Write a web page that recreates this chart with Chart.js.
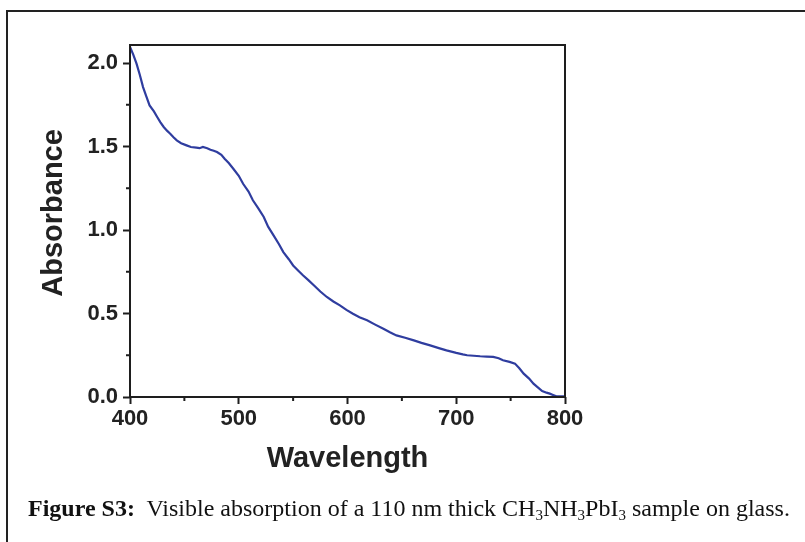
<!DOCTYPE html>
<html>
<head>
<meta charset="utf-8">
<script src="https://cdn.jsdelivr.net/npm/chart.js@4/dist/chart.umd.min.js"></script>
<style>
  html, body { margin: 0; padding: 0; background: #fff; }
  body { width: 805px; height: 542px; position: relative; overflow: hidden; }
  #frame {
    position: absolute; left: 6px; top: 10px; width: 820px; height: 560px;
    border-left: 2px solid #222; border-top: 2px solid #222;
  }
  #wrap { position: absolute; left: 0; top: 0; width: 805px; height: 542px; }
  #caption {
    position: absolute; left: 28px; top: 495px; white-space: nowrap;
    font-family: "Liberation Serif", "Times New Roman", serif; font-size: 24px; color: #111;
  }
  #caption b { font-weight: bold; }
  #caption sub { font-size: 15px; vertical-align: -4px; line-height: 0; }
</style>
</head>
<body>
<div id="frame"></div>
<div id="wrap"><canvas id="absChart" width="805" height="542"></canvas></div>
<div id="caption"><b>Figure S3:</b>&nbsp; Visible absorption of a 110 nm thick CH<sub>3</sub>NH<sub>3</sub>PbI<sub>3</sub> sample on glass.</div>

<script>
// wavelength (nm) and absorbance
const wavelength = [400, 403, 406, 409, 412, 415, 418, 422, 425, 428, 431, 434, 437, 440, 443, 447, 452, 456, 461, 464, 467, 471, 474, 477, 480, 484, 487, 491, 495, 500, 504, 509, 513, 518, 523, 527, 532, 537, 541, 546, 550, 555, 559, 564, 569, 575, 581, 587, 593, 599, 605, 611, 618, 625, 633, 639, 645, 653, 661, 668, 676, 684, 691, 700, 706, 710, 716, 722, 728, 734, 739, 743, 749, 754, 758, 762, 767, 771, 775, 779, 783, 786, 789, 792, 796, 800];
const absorbance = [2.096, 2.05, 1.996, 1.93, 1.856, 1.80, 1.746, 1.71, 1.677, 1.645, 1.617, 1.595, 1.577, 1.556, 1.537, 1.52, 1.507, 1.497, 1.493, 1.49, 1.497, 1.49, 1.481, 1.475, 1.467, 1.45, 1.427, 1.40, 1.367, 1.325, 1.277, 1.23, 1.178, 1.13, 1.078, 1.02, 0.968, 0.915, 0.868, 0.825, 0.788, 0.755, 0.729, 0.70, 0.669, 0.632, 0.599, 0.572, 0.549, 0.522, 0.499, 0.478, 0.459, 0.435, 0.409, 0.388, 0.369, 0.355, 0.339, 0.324, 0.309, 0.293, 0.279, 0.264, 0.255, 0.250, 0.247, 0.244, 0.242, 0.240, 0.232, 0.220, 0.210, 0.200, 0.172, 0.140, 0.110, 0.080, 0.058, 0.036, 0.026, 0.020, 0.012, 0.004, 0.004, 0.004];

const xMajorTicks = [400, 500, 600, 700, 800];
const xMinorTicks = [450, 550, 650, 750];
const yMajorTicks = [0.0, 0.5, 1.0, 1.5, 2.0];
const yMinorTicks = [0.25, 0.75, 1.25, 1.75];

const points = wavelength.map((w, i) => ({ x: w, y: absorbance[i] }));

const axisColor = "#1e1e1e";
const labelFont = { family: "'Liberation Sans', Arial, sans-serif", size: 22, weight: "bold" };
const titleFont = { family: "'Liberation Sans', Arial, sans-serif", size: 29, weight: "bold" };

// box around the plot plus the short minor ticks
const axisFrame = {
  id: "axisFrame",
  afterDraw(chart) {
    const ctx = chart.ctx;
    const a = chart.chartArea;
    const x = chart.scales.x;
    const y = chart.scales.y;
    ctx.save();
    ctx.strokeStyle = axisColor;
    ctx.lineWidth = 2;
    ctx.strokeRect(a.left, a.top, a.right - a.left, a.bottom - a.top);
    ctx.beginPath();
    xMinorTicks.forEach(v => {
      const px = x.getPixelForValue(v);
      ctx.moveTo(px, a.bottom);
      ctx.lineTo(px, a.bottom + 4);
    });
    yMinorTicks.forEach(v => {
      const py = y.getPixelForValue(v);
      ctx.moveTo(a.left, py);
      ctx.lineTo(a.left - 4, py);
    });
    ctx.stroke();
    ctx.restore();
  }
};

new Chart(document.getElementById("absChart"), {
  type: "line",
  data: {
    datasets: [{
      data: points,
      borderColor: "#2f3d9f",
      borderWidth: 2.2,
      pointRadius: 0,
      tension: 0,
      fill: false
    }]
  },
  options: {
    responsive: false,
    animation: false,
    layout: { padding: { left: 37, top: 45, right: 240, bottom: 66 } },
    plugins: { legend: { display: false }, tooltip: { enabled: false } },
    scales: {
      x: {
        type: "linear",
        min: 400,
        max: 800,
        afterBuildTicks: s => { s.ticks = xMajorTicks.map(v => ({ value: v })); },
        afterFit: s => { s.height = 79; },
        grid: { drawOnChartArea: false, tickLength: 7, tickWidth: 2, tickColor: axisColor },
        border: { display: false },
        ticks: { font: labelFont, color: "#222", padding: 2, maxRotation: 0 },
        title: { display: true, text: "Wavelength", font: titleFont, color: "#222", padding: 0 }
      },
      y: {
        type: "linear",
        min: 0,
        max: 2.108,
        afterBuildTicks: s => { s.ticks = yMajorTicks.map(v => ({ value: v })); },
        afterFit: s => { s.width = 93; },
        grid: { drawOnChartArea: false, tickLength: 7, tickWidth: 2, tickColor: axisColor },
        border: { display: false },
        ticks: { font: labelFont, color: "#222", padding: 5, callback: v => v.toFixed(1) },
        // leading spaces lift the rotated title a little above the axis centre
        title: { display: true, text: "\u00a0\u00a0Absorbance", font: titleFont, color: "#222", padding: 0 }
      }
    }
  },
  plugins: [axisFrame]
});
</script>
</body>
</html>
